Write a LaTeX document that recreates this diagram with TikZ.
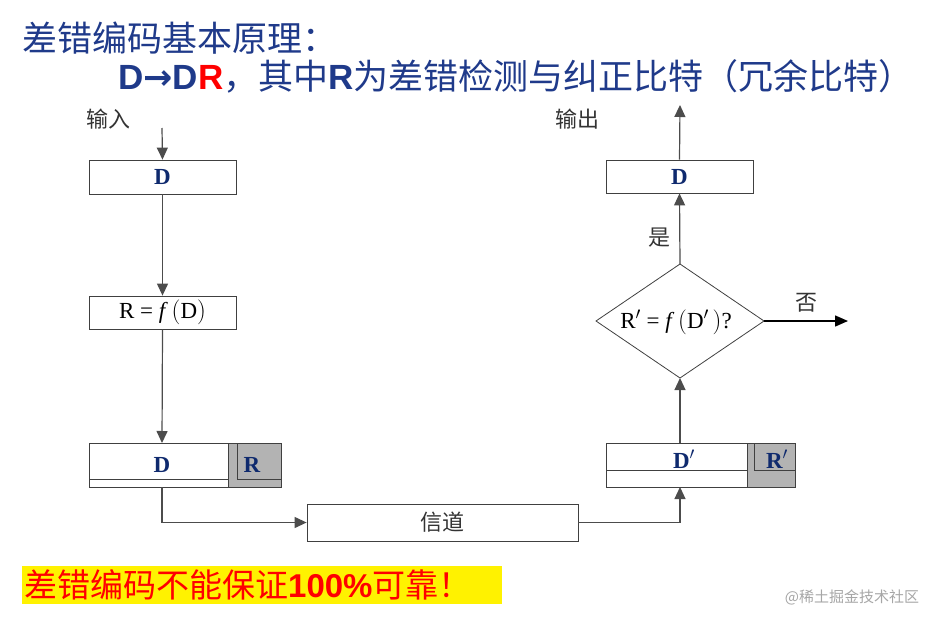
\documentclass[tikz,border=0pt]{standalone}
\usepackage{fontspec}
\setmainfont{Liberation Serif}
\newfontfamily\cjk{Noto Sans CJK SC}
\newfontfamily\arl{Liberation Sans}
\newfontfamily\dvs{DejaVu Sans}
\usetikzlibrary{arrows.meta}
\definecolor{navy}{HTML}{1F3A8A}
\definecolor{dnavy}{HTML}{0F2A6E}
\definecolor{lgray}{HTML}{B3B3B3}
\begin{document}
\begin{tikzpicture}[x=1pt,y=-1pt,
  bx/.style={draw=black!75,line width=0.8pt,fill=white},
  arr/.style={draw=black!70,line width=1.2pt,-{Triangle[length=12pt,width=11pt]}},
  lbl/.style={font=\bfseries\fontsize{23}{24}\selectfont,text=dnavy},
  cl/.style={font=\cjk\fontsize{22}{24}\selectfont,text=black!80}]
\useasboundingbox (0,0) rectangle (950,626);
% titles
\node[anchor=west,font=\cjk\fontsize{35}{36}\selectfont,text=navy,inner sep=0] (t1) at (22,38) {差错编码基本原理：};
\node[anchor=west,font=\cjk\fontsize{35}{36}\selectfont,text=navy,inner sep=0] (t2) at (118,76)
 {{\arl\bfseries D{\dvs\bfseries →}D\textcolor{red}{R}}，其中{\arl\bfseries R}为差错检测与纠正比特（冗余比特）};
% left column
\node[cl] (in) at (108,119) {输入};
\coordinate (inS) at (162,128);
\node[bx,minimum width=147pt,minimum height=34pt] (d1) at (162.5,177) {};
\node[lbl] at (d1) {D};
\node[bx,minimum width=147pt,minimum height=33pt] (rf) at (162.5,312.5) {};
\node[font=\fontsize{23}{24}\selectfont] at (rf) {R = \textit{f}\,$\bigl($D$\bigr)$};
% DR box
\draw[bx] (89,443) rectangle (281,487);
\fill[lgray] (228,443) rectangle (281,487);
\draw[black!75,line width=0.8pt] (89,443) rectangle (281,487) (228,443)--(228,487) (89,479)--(228,479);
\draw[black!75,line width=0.6pt] (237,443)--(237,479)--(281,479);
\node[lbl] (dd) at (162,465) {D};
\node[lbl] (dr) at (252,465) {R};
\coordinate (drT) at (162,443);
\coordinate (drB) at (162,487);
% channel
\node[bx,minimum width=271pt,minimum height=37pt] (ch) at (442.5,522.5) {};
\node[cl] at (ch) {信道};
% right DR box
\draw[bx] (606,443) rectangle (795,487);
\fill[lgray] (747,443) rectangle (795,487);
\draw[black!75,line width=0.8pt] (606,443) rectangle (795,487) (747,443)--(747,487) (606,470)--(747,470);
\draw[black!75,line width=0.6pt] (754,443)--(754,470)--(795,470);
\node[lbl] (dd2) at (684,459) {D$'$};
\node[lbl] (dr2) at (777,459) {R$'$};
\coordinate (rT) at (680,443);
\coordinate (rB) at (680,487);
% diamond
\draw[black!75,line width=0.8pt,fill=white] (596,321)--(680,264)--(764,321)--(680,378)--cycle;
\coordinate (dmT) at (680,264); \coordinate (dmB) at (680,378); \coordinate (dmR) at (764,321);
\node[font=\fontsize{23}{24}\selectfont] (dm) at (676,322) {R$'$ = \textit{f}\,$\bigl($D$'$\,$\bigr)$?};
\node[bx,minimum width=147pt,minimum height=33pt] (d2) at (679.5,176.5) {};
\node[lbl] at (d2) {D};
\node[cl] (out) at (577,119) {输出};
\coordinate (outE) at (680,105);
\node[cl] (yes) at (659,238) {是};
\node[cl] (no) at (806,303) {否};
\coordinate (noE) at (848,321);
% arrows
\draw[arr] (inS) -- (d1.north);
\draw[arr] (d1.south) -- (rf.north);
\draw[arr] (rf.south) -- (drT);
\draw[arr] (drB) |- (ch.west);
\draw[arr] (ch.east) -| (rB);
\draw[arr] (rT) -- (dmB);
\draw[arr] (dmT) -- (d2.south);
\draw[arr] (d2.north) -- (outE);
\draw[line width=1.5pt,-{Triangle[length=13pt,width=11pt]}] (dmR) -- (noE);
% bottom note
\node[fill=yellow,anchor=west,minimum width=480pt,minimum height=38pt,inner sep=0,text=red,
  font=\cjk\fontsize{33}{34}\selectfont,align=left,text width=480pt] (note) at (22,585)
  {\hspace{2pt}差错编码不能保证{\arl\bfseries 100\%}可靠！};
\node[font=\cjk\fontsize{15}{16}\selectfont,text=black!35] (wm) at (852,597) {@稀土掘金技术社区};
\end{tikzpicture}
\end{document}
